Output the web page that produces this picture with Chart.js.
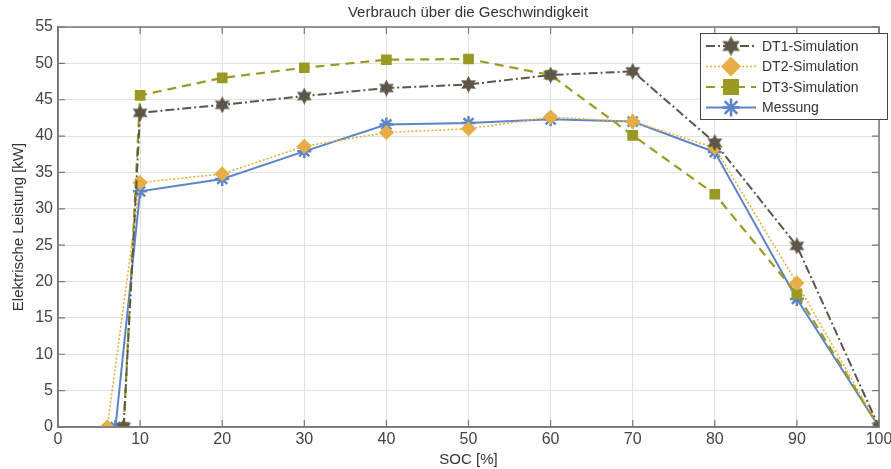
<!DOCTYPE html>
<html>
<head>
<meta charset="utf-8">
<script src="https://cdn.jsdelivr.net/npm/chart.js@4"></script>
<style>
  html, body { margin: 0; padding: 0; background: #fff; }
  #wrap { width: 891px; height: 469px; position: relative; }
</style>
</head>
<body>
<div id="wrap"><canvas id="chart" width="891" height="469"></canvas></div>
<script>
// SOC values (x) and power values (y) for each series
const socDT1 = [8, 10, 20, 30, 40, 50, 60, 70, 80, 90, 100];
const dt1 = [0, 43.2, 44.3, 45.5, 46.6, 47.1, 48.4, 48.9, 39.1, 24.9, 0];
const socDT2 = [6, 10, 20, 30, 40, 50, 60, 70, 80, 90, 100];
const dt2 = [0, 33.6, 34.8, 38.6, 40.5, 41.0, 42.6, 42.0, 38.4, 19.8, 0];
const socDT3 = [8, 10, 20, 30, 40, 50, 60, 70, 80, 90, 100];
const dt3 = [0, 45.6, 48.0, 49.4, 50.5, 50.6, 48.4, 40.1, 32.0, 18.3, 0];
const socMess = [7, 10, 20, 30, 40, 50, 60, 70, 80, 90, 100];
const messung = [0, 32.4, 34.1, 37.9, 41.6, 41.8, 42.3, 42.0, 37.8, 17.6, 0];
const xTicks = [0, 10, 20, 30, 40, 50, 60, 70, 80, 90, 100];
const yTicks = [0, 5, 10, 15, 20, 25, 30, 35, 40, 45, 50, 55];

const cDT1 = '#5d5649';
const cDT2 = '#e7ae47';
const cDT3 = '#9a9a22';
const cMess = '#5b84c9';
const fontFam = '"Liberation Sans", "DejaVu Sans", sans-serif';

// six pointed star marker for DT1
function hexagram(size, color) {
  const c = document.createElement('canvas');
  c.width = size; c.height = size;
  const g = c.getContext('2d');
  const r = size / 2;
  g.fillStyle = color;
  g.beginPath();
  for (let i = 0; i < 12; i++) {
    const a = -Math.PI / 2 + i * Math.PI / 6;
    const rr = i % 2 === 0 ? r : r * 0.55;
    g.lineTo(r + rr * Math.cos(a), r + rr * Math.sin(a));
  }
  g.closePath();
  g.fill();
  return c;
}
const starImg = hexagram(17, cDT1);

const pts = (xs, ys) => xs.map((x, i) => ({ x: x, y: ys[i] }));

// box round the plot with small inward ticks
const frame = {
  id: 'frame',
  afterDatasetsDraw(chart) {
    const { ctx, chartArea: a, scales } = chart;
    ctx.save();
    ctx.strokeStyle = '#777';
    ctx.lineWidth = 1.5;
    ctx.strokeRect(a.left, a.top, a.right - a.left, a.bottom - a.top);
    ctx.lineWidth = 1.2;
    ctx.beginPath();
    xTicks.forEach(v => {
      const px = scales.x.getPixelForValue(v);
      ctx.moveTo(px, a.bottom); ctx.lineTo(px, a.bottom - 7);
      ctx.moveTo(px, a.top); ctx.lineTo(px, a.top + 7);
    });
    yTicks.forEach(v => {
      const py = scales.y.getPixelForValue(v);
      ctx.moveTo(a.left, py); ctx.lineTo(a.left + 7, py);
      ctx.moveTo(a.right, py); ctx.lineTo(a.right - 7, py);
    });
    ctx.stroke();
    ctx.restore();
  }
};

const legendBox = {
  id: 'legendBox',
  afterDraw(chart) {
    const ctx = chart.ctx;
    const x0 = 700, y0 = 33, w = 187, h = 86;
    ctx.save();
    ctx.fillStyle = '#fff';
    ctx.fillRect(x0, y0, w, h);
    ctx.strokeStyle = '#444';
    ctx.lineWidth = 1;
    ctx.strokeRect(x0 + 0.5, y0 + 0.5, w, h);
    chart.data.datasets.forEach((ds, i) => {
      const y = y0 + 13 + i * 20.5;
      ctx.strokeStyle = ds.borderColor;
      ctx.lineWidth = ds.borderWidth;
      ctx.setLineDash(ds.borderDash || []);
      ctx.beginPath();
      ctx.moveTo(x0 + 6, y);
      ctx.lineTo(x0 + 56, y);
      ctx.stroke();
      ctx.setLineDash([]);
      const mx = x0 + 31;
      ctx.fillStyle = ds.pointBackgroundColor;
      ctx.strokeStyle = ds.pointBorderColor;
      ctx.beginPath();
      if (ds.pointStyle instanceof HTMLCanvasElement) {
        ctx.drawImage(ds.pointStyle, mx - 10, y - 10, 20, 20);
      } else if (ds.pointStyle === 'rectRot') {
        ctx.moveTo(mx, y - 10); ctx.lineTo(mx + 10, y); ctx.lineTo(mx, y + 10); ctx.lineTo(mx - 10, y);
        ctx.closePath(); ctx.fill();
      } else if (ds.pointStyle === 'rect') {
        ctx.fillRect(mx - 8, y - 8, 16, 16);
      } else {
        for (let k = 0; k < 4; k++) {
          const ang = k * Math.PI / 4;
          ctx.moveTo(mx - 9 * Math.cos(ang), y - 9 * Math.sin(ang));
          ctx.lineTo(mx + 9 * Math.cos(ang), y + 9 * Math.sin(ang));
        }
        ctx.lineWidth = 2.5;
        ctx.stroke();
      }
      ctx.fillStyle = '#333';
      ctx.font = '14px ' + fontFam;
      ctx.textBaseline = 'middle';
      ctx.fillText(ds.label, x0 + 62, y + 1);
    });
    ctx.restore();
  }
};

const titleText = {
  id: 'titleText',
  afterDraw(chart) {
    const ctx = chart.ctx;
    ctx.save();
    ctx.fillStyle = '#333';
    ctx.font = '15px ' + fontFam;
    ctx.textAlign = 'center';
    ctx.textBaseline = 'middle';
    ctx.fillText('Verbrauch über die Geschwindigkeit', 468, 13);
    ctx.restore();
  }
};

new Chart(document.getElementById('chart'), {
  type: 'line',
  data: {
    datasets: [
      {
        label: 'DT1-Simulation',
        data: pts(socDT1, dt1),
        borderColor: cDT1,
        borderWidth: 2,
        borderDash: [9, 3, 2, 3],
        pointStyle: starImg,
        pointRadius: 8,
        tension: 0
      },
      {
        label: 'DT2-Simulation',
        data: pts(socDT2, dt2),
        borderColor: cDT2,
        borderWidth: 1.6,
        borderDash: [2, 2],
        pointStyle: 'rectRot',
        pointRadius: 6.5,
        pointBackgroundColor: cDT2,
        pointBorderColor: cDT2,
        tension: 0
      },
      {
        label: 'DT3-Simulation',
        data: pts(socDT3, dt3),
        borderColor: cDT3,
        borderWidth: 2.2,
        borderDash: [9, 6],
        pointStyle: 'rect',
        pointRadius: 6,
        pointBackgroundColor: cDT3,
        pointBorderColor: cDT3,
        tension: 0
      },
      {
        label: 'Messung',
        data: pts(socMess, messung),
        borderColor: cMess,
        borderWidth: 2,
        pointStyle: 'star',
        pointRadius: 7,
        pointBorderWidth: 2.5,
        pointBackgroundColor: cMess,
        pointBorderColor: cMess,
        tension: 0
      }
    ]
  },
  options: {
    responsive: false,
    animation: false,
    layout: { padding: { top: 27, right: 12, left: 10, bottom: 0 } },
    plugins: {
      legend: { display: false },
      title: { display: false },
      tooltip: { enabled: false }
    },
    scales: {
      x: {
        type: 'linear',
        min: 0, max: 100,
        afterBuildTicks: (s) => { s.ticks = xTicks.map(v => ({ value: v })); },
        afterFit: (s) => { s.height = 42; s.paddingRight = 0; s.paddingLeft = 0; },
        grid: { color: '#e2e2e2', tickLength: 0 },
        border: { color: '#777', width: 1.5 },
        ticks: { color: '#444', font: { size: 16, family: fontFam }, padding: 3, maxRotation: 0 },
        title: { display: true, text: 'SOC [%]', color: '#333', font: { size: 15, family: fontFam }, padding: { top: 1, bottom: 0 } }
      },
      y: {
        min: 0, max: 55,
        afterBuildTicks: (s) => { s.ticks = yTicks.map(v => ({ value: v })); },
        afterFit: (s) => { s.width = 48; },
        grid: { color: '#e2e2e2', tickLength: 0 },
        border: { color: '#777', width: 1.5 },
        ticks: { color: '#444', font: { size: 16, family: fontFam }, padding: 5 },
        title: { display: true, text: 'Elektrische Leistung [kW]', color: '#333', font: { size: 15, family: fontFam }, padding: { top: 0, bottom: 0 } }
      }
    }
  },
  plugins: [frame, titleText, legendBox]
});
</script>
</body>
</html>
